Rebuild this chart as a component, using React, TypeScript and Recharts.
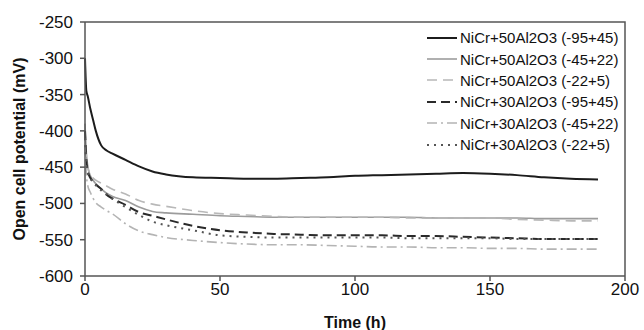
import { Label, Line, LineChart, XAxis, YAxis } from "recharts";

const times = [0, 0.5, 1, 2, 3, 4, 6, 8, 10, 15, 20, 25, 30, 40, 50, 60, 70, 80, 90, 100, 110, 120, 130, 140, 150, 160, 170, 180, 190];

const ni50Coarse = [-300, -345, -352, -370, -385, -400, -420, -427, -431, -440, -449, -456, -460, -464, -465, -466, -466, -465, -464, -462, -461, -460, -459, -458, -459, -461, -464, -466, -467];
const ni50Medium = [-390, -430, -448, -462, -468, -473, -480, -486, -490, -496, -505, -511, -513, -515, -517, -518, -519, -519, -519, -519, -519, -519, -520, -520, -520, -520, -521, -521, -521];
const ni50Fine = [-400, -435, -450, -460, -465, -468, -472, -476, -480, -487, -496, -501, -504, -510, -514, -516, -518, -519, -519, -519, -519, -520, -520, -520, -520, -522, -523, -524, -524];
const ni30Coarse = [-400, -440, -455, -465, -470, -474, -480, -488, -493, -502, -512, -517, -522, -531, -537, -540, -542, -543, -544, -544, -544, -545, -545, -546, -547, -548, -549, -549, -549];
const ni30Medium = [-420, -460, -475, -485, -493, -499, -505, -510, -514, -528, -538, -543, -547, -551, -554, -556, -557, -557, -558, -559, -560, -560, -561, -561, -562, -562, -563, -563, -563];
const ni30Fine = [-410, -445, -458, -466, -471, -475, -482, -487, -493, -505, -516, -525, -530, -537, -544, -546, -547, -547, -547, -547, -547, -548, -548, -548, -548, -549, -549, -549, -549];

const xTicks = [0, 50, 100, 150, 200];
const yTicks = [-600, -550, -500, -450, -400, -350, -300, -250];

const series = [
  { key: "a", name: "NiCr+50Al2O3 (-95+45)", values: ni50Coarse, color: "#1c1c1c", width: 2, dash: undefined },
  { key: "b", name: "NiCr+50Al2O3 (-45+22)", values: ni50Medium, color: "#9c9c9c", width: 1.6, dash: undefined },
  { key: "c", name: "NiCr+50Al2O3 (-22+5)", values: ni50Fine, color: "#b8b8b8", width: 1.6, dash: "10 6" },
  { key: "d", name: "NiCr+30Al2O3 (-95+45)", values: ni30Coarse, color: "#2a2a2a", width: 2, dash: "9 5" },
  { key: "e", name: "NiCr+30Al2O3 (-45+22)", values: ni30Medium, color: "#b4b4b4", width: 1.6, dash: "10 4 2 4" },
  { key: "f", name: "NiCr+30Al2O3 (-22+5)", values: ni30Fine, color: "#555555", width: 2, dash: "2 5" },
];

const data = times.map((t, i) => {
  const row: Record<string, number> = { t };
  series.forEach((s) => {
    row[s.key] = s.values[i];
  });
  return row;
});

const font = "'Liberation Sans', Arial, sans-serif";
const axisColor = "#555";
const tickStyle = { fill: "#111", fontSize: 17, fontFamily: font };

const chartW = 644;
const chartH = 330;
const margin = { top: 22, right: 19, left: 0, bottom: 0 };
const yAxisW = 85;
const xAxisH = 54;

// legend sits on top of the plot, outside recharts' layout so it doesn't shrink the plot
function ChartLegend() {
  return (
    <div style={{ position: "absolute", left: 426, top: 27, fontFamily: font, fontSize: 15, color: "#111" }}>
      {series.map((s) => (
        <div key={s.key} style={{ display: "flex", alignItems: "center", height: 21.4 }}>
          <svg width={32} height={10} style={{ marginRight: 2 }}>
            <line x1={1} y1={5} x2={31} y2={5} stroke={s.color} strokeWidth={s.width} strokeDasharray={s.dash} />
          </svg>
          <span style={{ whiteSpace: "nowrap" }}>{s.name}</span>
        </div>
      ))}
    </div>
  );
}

export default function App() {
  return (
    <div style={{ position: "absolute", left: 0, top: 0, width: chartW, height: chartH, background: "#fff" }}>
      <LineChart width={chartW} height={chartH} data={data} margin={margin}>
        <XAxis
          dataKey="t"
          type="number"
          domain={[0, 200]}
          ticks={xTicks}
          height={xAxisH}
          stroke={axisColor}
          strokeWidth={1.5}
          tickSize={5}
          tickMargin={2}
          tick={tickStyle}
        >
          <Label
            content={({ viewBox }: any) => {
              const { x, y, width } = viewBox;
              return (
                <g>
                  {/* top and right edge of the plot box */}
                  <path
                    d={`M${x},${margin.top} H${x + width} V${y}`}
                    fill="none"
                    stroke={axisColor}
                    strokeWidth={1.5}
                  />
                  <text
                    x={x + width / 2}
                    y={y + 52}
                    textAnchor="middle"
                    fontFamily={font}
                    fontSize={16}
                    fontWeight="bold"
                    fill="#111"
                  >
                    Time (h)
                  </text>
                </g>
              );
            }}
          />
        </XAxis>
        <YAxis
          type="number"
          domain={[-600, -250]}
          ticks={yTicks}
          width={yAxisW}
          stroke={axisColor}
          strokeWidth={1.5}
          tickSize={5}
          tickMargin={7}
          tick={tickStyle}
        >
          <Label
            content={({ viewBox }: any) => (
              <text
                transform={`translate(25, ${viewBox.y + viewBox.height / 2}) rotate(-90)`}
                textAnchor="middle"
                fontFamily={font}
                fontSize={16}
                fontWeight="bold"
                fill="#111"
              >
                Open cell potential (mV)
              </text>
            )}
          />
        </YAxis>
        {series.map((s) => (
          <Line
            key={s.key}
            dataKey={s.key}
            name={s.name}
            type="monotone"
            stroke={s.color}
            strokeWidth={s.width}
            strokeDasharray={s.dash}
            dot={false}
            isAnimationActive={false}
          />
        ))}
      </LineChart>
      <ChartLegend />
    </div>
  );
}
